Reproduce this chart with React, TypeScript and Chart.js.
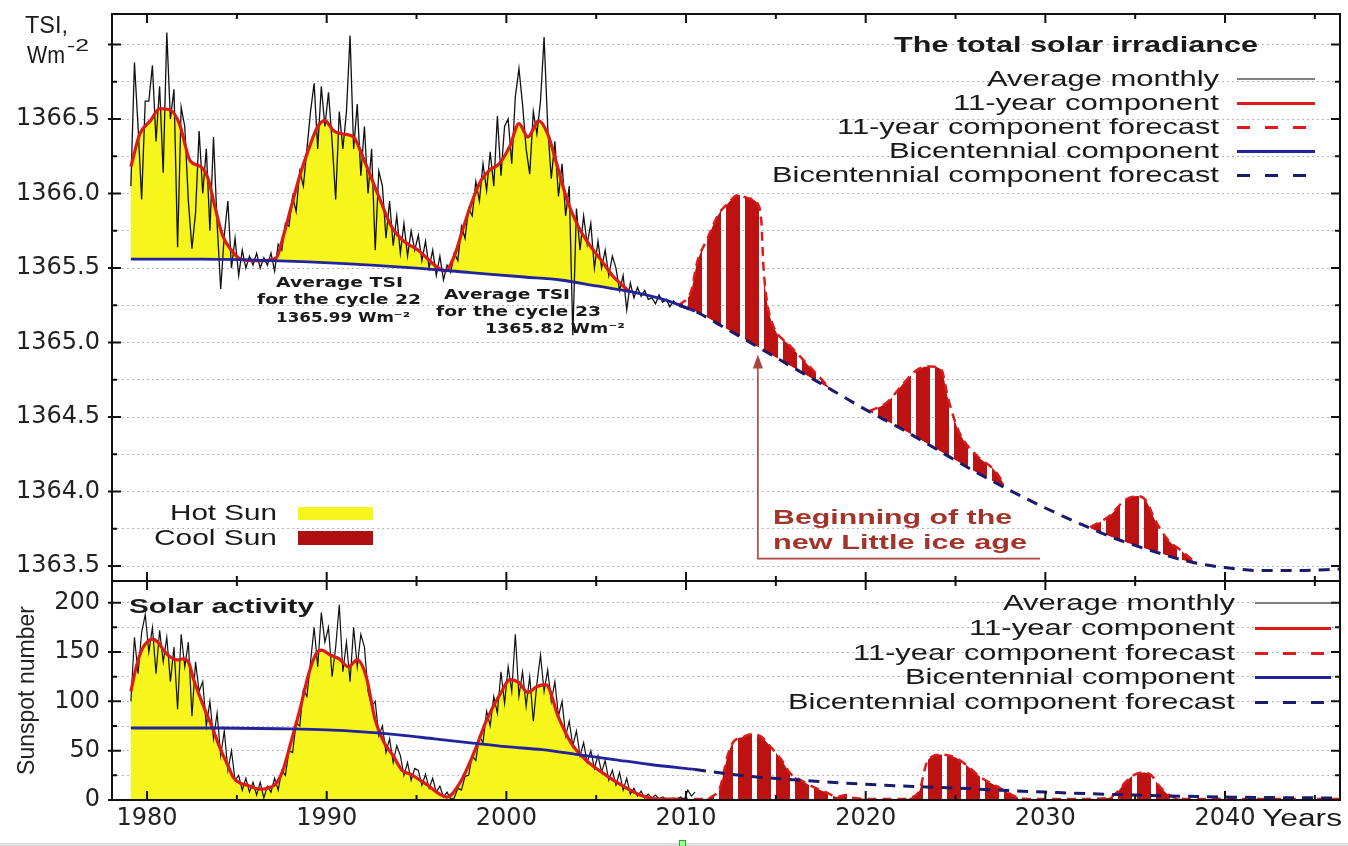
import React, { useEffect, useRef } from "react";
import { Chart, registerables } from "chart.js";

Chart.register(...registerables);

// ---------------- axes ----------------
const X_MIN = 1978.05;
const X_MAX = 2046.4;
const X_TICKS = [1980, 1985, 1990, 1995, 2000, 2005, 2010, 2015, 2020, 2025, 2030, 2035, 2040, 2045];
const X_LABELS = [1980, 1990, 2000, 2010, 2020, 2030, 2040];

const TSI_MIN = 1363.4;
const TSI_MAX = 1367.205;
const TSI_TICKS = [1363.5, 1363.75, 1364.0, 1364.25, 1364.5, 1364.75, 1365.0, 1365.25, 1365.5, 1365.75, 1366.0, 1366.25, 1366.5, 1366.75, 1367.0];
const TSI_LABELS = [1363.5, 1364.0, 1364.5, 1365.0, 1365.5, 1366.0, 1366.5];

const SSN_MIN = 0;
const SSN_MAX = 222;
const SSN_TICKS = [0, 25, 50, 75, 100, 125, 150, 175, 200];
const SSN_LABELS = [0, 50, 100, 150, 200];

// ---------------- data ----------------
const MONTHLY_START = 1979.1;
const MONTHLY_STEP = 0.2;

const TSI_MONTHLY = [
  1366.05, 1366.88, 1366.45, 1365.96, 1366.62,
  1366.62, 1366.86, 1366.35, 1366.72, 1366.14,
  1367.08, 1366.5, 1366.7, 1365.64, 1366.58,
  1366.45, 1365.95, 1365.63, 1365.87, 1366.42,
  1366.0, 1366.3, 1365.75, 1366.38, 1365.8,
  1365.36, 1365.72, 1365.95, 1365.5, 1365.7,
  1365.45, 1365.62, 1365.5, 1365.58, 1365.52,
  1365.6, 1365.5, 1365.57, 1365.52, 1365.6,
  1365.48, 1365.66, 1365.62, 1365.8, 1365.78,
  1365.98, 1365.88, 1366.15, 1366.05, 1366.3,
  1366.55, 1366.74, 1366.3, 1366.72, 1366.45,
  1366.68, 1366.35, 1365.96, 1366.55, 1366.3,
  1366.55, 1367.06, 1366.3, 1366.6, 1366.12,
  1366.45, 1366.0, 1366.3, 1365.62, 1366.15,
  1366.05, 1365.7, 1365.95, 1365.65, 1365.85,
  1365.6, 1365.8, 1365.58, 1365.75, 1365.62,
  1365.72, 1365.55, 1365.68, 1365.5, 1365.62,
  1365.45, 1365.58, 1365.42, 1365.52, 1365.47,
  1365.6, 1365.55, 1365.78, 1365.7, 1365.9,
  1365.85, 1366.08, 1365.95, 1366.2, 1366.02,
  1366.28, 1366.05, 1366.52, 1366.12, 1366.45,
  1366.5, 1366.2, 1366.65, 1366.84, 1366.6,
  1366.3, 1366.13, 1366.55, 1366.4, 1366.62,
  1367.05, 1366.45, 1366.1, 1366.35, 1365.98,
  1366.2, 1365.85, 1366.05, 1365.05, 1365.9,
  1365.62, 1365.85, 1365.66, 1365.8, 1365.5,
  1365.68, 1365.5, 1365.62, 1365.45, 1365.58,
  1365.5, 1365.35, 1365.45, 1365.22, 1365.4,
  1365.3, 1365.37, 1365.31, 1365.35, 1365.29,
  1365.3, 1365.26, 1365.32, 1365.27, 1365.29,
  1365.24, 1365.28, 1365.25,
];

const SSN_MONTHLY = [
  100, 165, 128, 170, 188,
  150, 175, 128, 172, 140,
  165, 120, 155, 92, 168,
  135, 160, 85, 140, 110,
  120, 75, 100, 62, 88,
  45, 70, 30, 50, 20,
  25, 10, 22, 8, 18,
  5, 18, 2, 14, 8,
  22, 10, 30, 25, 50,
  48, 78, 75, 112, 105,
  140, 175, 135, 190, 160,
  175, 125, 155, 198, 130,
  160, 120, 175, 135, 168,
  155, 110, 95, 100, 65,
  75, 48, 62, 38, 55,
  45, 25, 38, 20, 32,
  30, 15, 26, 12, 22,
  8, 14, 3, 8, 1,
  2, 12, 10, 24, 25,
  45, 40, 65, 58, 90,
  75, 105, 88, 130, 98,
  135, 110, 168, 105, 130,
  95, 125, 80, 118, 147,
  110, 132, 100, 120, 85,
  100, 65, 80, 55, 70,
  45, 58, 38, 50, 32,
  45, 28, 40, 20, 30,
  15, 28, 10, 22, 6,
  12, 4, 9, 2, 6,
  2, 5, 1, 3, 1,
  0, 2, 1, 3, 0,
  10, 4, 8,
];

const TSI_11Y_YEARS = [1979.1, 1979.6, 1980.2, 1980.7, 1981.3, 1981.8, 1982.4, 1983.0, 1983.4, 1983.8, 1984.2, 1984.7, 1985.2, 1985.8, 1986.5, 1987.2, 1987.6, 1988.0, 1988.5, 1989.0, 1989.5, 1989.9, 1990.4, 1990.9, 1991.5, 1992.0, 1992.4, 1993.0, 1993.6, 1994.3, 1995.1, 1996.0, 1996.6, 1997.1, 1997.6, 1998.1, 1998.6, 1999.1, 1999.6, 2000.2, 2000.7, 2001.2, 2001.8, 2002.3, 2002.8, 2003.4, 2004.0, 2004.6, 2005.3, 2005.9, 2006.5, 2006.9];
const TSI_11Y = [1366.18, 1366.4, 1366.49, 1366.57, 1366.56, 1366.47, 1366.22, 1366.18, 1366.1, 1365.9, 1365.72, 1365.62, 1365.56, 1365.55, 1365.55, 1365.57, 1365.72, 1365.9, 1366.12, 1366.3, 1366.45, 1366.49, 1366.42, 1366.4, 1366.38, 1366.25, 1366.13, 1365.95, 1365.78, 1365.68, 1365.62, 1365.52, 1365.48, 1365.58, 1365.77, 1365.95, 1366.09, 1366.16, 1366.2, 1366.32, 1366.47, 1366.38, 1366.49, 1366.4, 1366.2, 1365.95, 1365.78, 1365.66, 1365.55, 1365.45, 1365.38, 1365.34];

const TSI_BICENT_YEARS = [1979.1, 1983, 1987, 1991, 1995, 1998, 2001, 2003, 2005, 2007, 2009, 2010.5];
const TSI_BICENT = [1365.56, 1365.56, 1365.55, 1365.53, 1365.5, 1365.47, 1365.44, 1365.42, 1365.38, 1365.34, 1365.28, 1365.21];

const TSI_BICENT_FC_YEARS = [2009.6, 2010.5, 2012, 2014, 2016, 2018, 2020, 2022, 2024, 2026, 2028, 2030, 2032, 2034, 2036, 2038, 2040, 2042, 2044, 2046.4];
const TSI_BICENT_FC = [1365.25, 1365.21, 1365.11, 1364.97, 1364.83, 1364.69, 1364.55, 1364.42, 1364.28, 1364.14, 1364.01, 1363.89, 1363.78, 1363.68, 1363.6, 1363.53, 1363.49, 1363.47, 1363.47, 1363.48];

const TSI_FC1_YEARS = [2009.6, 2010.3, 2010.6, 2011.2, 2011.8, 2012.3, 2012.9, 2013.4, 2014.0, 2014.2, 2014.3, 2014.5, 2014.9, 2015.7, 2016.4, 2017.1, 2017.8, 2018.2];
const TSI_FC1 = [1365.25, 1365.35, 1365.53, 1365.7, 1365.86, 1365.93, 1365.99, 1365.97, 1365.93, 1365.8, 1365.53, 1365.28, 1365.1, 1364.99, 1364.9, 1364.81, 1364.72, 1364.67];
const TSI_FC2_YEARS = [2020.2, 2021.2, 2022.2, 2022.9, 2023.6, 2024.2, 2024.6, 2025.2, 2026.2, 2027.2, 2027.7];
const TSI_FC2 = [1364.54, 1364.6, 1364.74, 1364.82, 1364.84, 1364.82, 1364.62, 1364.4, 1364.24, 1364.14, 1364.05];
const TSI_FC3_YEARS = [2032.5, 2033.6, 2034.4, 2035.1, 2035.6, 2036.1, 2036.8, 2037.6, 2038.3];
const TSI_FC3 = [1363.76, 1363.84, 1363.94, 1363.97, 1363.94, 1363.81, 1363.68, 1363.6, 1363.53];

const SSN_11Y_YEARS = [1979.1, 1979.4, 1979.7, 1980.0, 1980.3, 1980.6, 1981.0, 1981.3, 1981.7, 1982.0, 1982.3, 1982.6, 1983.0, 1983.3, 1983.6, 1984.1, 1984.5, 1984.8, 1985.2, 1985.6, 1986.2, 1986.7, 1987.2, 1987.6, 1988.0, 1988.5, 1989.0, 1989.4, 1989.7, 1990.2, 1990.7, 1991.2, 1991.7, 1992.2, 1992.7, 1993.2, 1993.7, 1994.2, 1994.7, 1995.2, 1995.7, 1996.2, 1996.7, 1997.4, 1998.2, 1998.9, 1999.7, 2000.2, 2000.7, 2001.2, 2001.7, 2002.2, 2002.9, 2003.6, 2004.4, 2005.4, 2006.6, 2007.6, 2008.5, 2009.6];
const SSN_11Y = [110, 135, 152, 160, 163, 160, 150, 145, 142, 143, 140, 122, 102, 88, 75, 51, 35, 23, 17, 15, 11, 12, 17, 32, 58, 91, 128, 148, 152, 147, 143, 135, 142, 125, 81, 58, 45, 30, 26, 20, 14, 7, 3, 17, 48, 81, 109, 122, 119, 109, 115, 117, 84, 58, 41, 27, 13, 4, 1, 1];

const SSN_BICENT_YEARS = [1979.1, 1984, 1988, 1990, 1992, 1994, 1996, 1998, 2000, 2002, 2004, 2006, 2008, 2010.5];
const SSN_BICENT = [73, 73, 72, 71, 69, 66, 62, 58, 54, 51, 46, 41, 36, 31];
const SSN_BICENT_FC_YEARS = [2010.5, 2013, 2016, 2020, 2025, 2030, 2035, 2040, 2046.4];
const SSN_BICENT_FC = [31, 25, 20.5, 16, 12, 8, 5, 3, 2];

const SSN_FC_YEARS = [2009.6, 2010.5, 2011.0, 2011.4, 2011.9, 2012.3, 2012.6, 2013.2, 2013.7, 2014.2, 2014.7, 2015.3, 2015.8, 2016.4, 2017.1, 2017.9, 2018.4, 2018.9, 2019.4, 2020.5, 2022.0, 2022.6, 2023.0, 2023.4, 2023.7, 2024.1, 2025.0, 2025.7, 2026.4, 2027.4, 2028.4, 2029.0, 2030.5, 2032.0, 2033.5, 2034.0, 2034.4, 2034.9, 2035.4, 2035.9, 2036.4, 2037.1, 2038.0, 2040.0, 2046.4];
const SSN_FC = [1, 1, 1, 3, 13, 44, 58, 64, 67, 64, 54, 41, 27, 20, 13, 7, 3, 5, 2, 1, 1, 3, 10, 38, 44, 46, 43, 34, 23, 13, 3, 1, 1, 1, 2, 8, 17, 25, 28, 25, 13, 3, 1, 1, 1];

// annotation arrow (data coordinates)
const ARROW_YEAR = 2014.0;
const ARROW_TIP = 1364.92;
const ARROW_BASE = 1363.55;
const ARROW_END_YEAR = 2029.7;

// ---------------- styles ----------------
const YELLOW = "#f6f61c";
const RED = "#dc1b1b";
const BLUE = "#23239c";
const NAVY = "#1b1b6c";
const HATCH = "#bd1212";
const COOL = "#b00f0f";
const BLACK = "#111111";
const GRID_COLOR = "rgba(110,110,110,0.5)";
const TICK_COLOR = "#222";
const ARROW_COLOR = "#a8463f";
const SANS = "'Liberation Sans', Arial, sans-serif";
const TICK_FONT = { family: "'DejaVu Sans', sans-serif", size: 24 };

const pts = (xs: number[], ys: number[]) => xs.map((x, i) => ({ x, y: ys[i] }));
const monthly = (ys: number[]) => ys.map((y, i) => ({ x: +(MONTHLY_START + i * MONTHLY_STEP).toFixed(2), y }));
const near = (list: number[], v: number) => list.some((l) => Math.abs(l - v) < 1e-6);

function stripePattern(phase: number): CanvasPattern | string {
  const c = document.createElement("canvas");
  c.width = 19;
  c.height = 4;
  const g = c.getContext("2d");
  if (!g) return HATCH;
  g.fillStyle = HATCH;
  g.fillRect(0, 0, 19, 4);
  for (let i = -2; i <= 2; i++) {
    const x = (((phase + i) % 19) + 19) % 19;
    g.clearRect(x, 0, 1, 4);
  }
  return g.createPattern(c, "repeat") || HATCH;
}

function framePlugin(yTicks: number[], isMajor: (v: number) => boolean) {
  return {
    id: "frameTicks",
    afterDraw(chart: any) {
      const { ctx, chartArea: a, scales } = chart;
      ctx.save();
      ctx.strokeStyle = "#111";
      ctx.lineWidth = 2;
      ctx.strokeRect(a.left, a.top, a.right - a.left, a.bottom - a.top);
      ctx.beginPath();
      for (const v of X_TICKS) {
        const px = scales.x.getPixelForValue(v);
        const len = v % 10 === 0 ? 9 : 5;
        ctx.moveTo(px, a.top);
        ctx.lineTo(px, a.top + len);
        ctx.moveTo(px, a.bottom);
        ctx.lineTo(px, a.bottom - len);
      }
      for (const v of yTicks) {
        const py = scales.y.getPixelForValue(v);
        const major = isMajor(v);
        const len = major ? 9 : 5;
        ctx.moveTo(a.left - (major ? 4 : 0), py);
        ctx.lineTo(a.left + len, py);
        ctx.moveTo(a.right, py);
        ctx.lineTo(a.right - len, py);
      }
      ctx.stroke();
      ctx.restore();
    },
  };
}

const arrowPlugin = {
  id: "arrow",
  afterDatasetsDraw(chart: any) {
    const { ctx } = chart;
    const { x, y } = chart.scales;
    const px = x.getPixelForValue(ARROW_YEAR);
    const pe = x.getPixelForValue(ARROW_END_YEAR);
    const pt = y.getPixelForValue(ARROW_TIP);
    const pb = y.getPixelForValue(ARROW_BASE);
    ctx.save();
    ctx.strokeStyle = ARROW_COLOR;
    ctx.fillStyle = ARROW_COLOR;
    ctx.lineWidth = 1.6;
    ctx.beginPath();
    ctx.moveTo(pe, pb);
    ctx.lineTo(px, pb);
    ctx.lineTo(px, pt + 10);
    ctx.stroke();
    ctx.beginPath();
    ctx.moveTo(px, pt);
    ctx.lineTo(px - 5, pt + 14);
    ctx.lineTo(px + 5, pt + 14);
    ctx.closePath();
    ctx.fill();
    ctx.restore();
  },
};

function yScale(min: number, max: number, ticks: number[], labels: number[], fmt: (v: number) => string, extra: any = {}) {
  return {
    type: "linear",
    min,
    max,
    afterFit(s: any) {
      s.width = 112;
      s.paddingTop = 0;
      s.paddingBottom = 0;
    },
    afterBuildTicks(s: any) {
      s.ticks = ticks.map((value) => ({ value }));
    },
    grid: { color: GRID_COLOR, lineWidth: 1, drawTicks: false },
    border: { display: false, dash: [2, 3] },
    ticks: {
      autoSkip: false,
      padding: 12,
      color: TICK_COLOR,
      font: TICK_FONT,
      callback: (v: any) => (near(labels, Number(v)) ? fmt(Number(v)) : ""),
    },
    ...extra,
  };
}

const common = {
  responsive: false,
  animation: false,
  devicePixelRatio: 1,
  events: [],
  plugins: { legend: { display: false }, tooltip: { enabled: false }, title: { display: false } },
  elements: { point: { radius: 0 } },
};

function topConfig(pattern: any): any {
  const hump = (xs: number[], ys: number[]) => ({
    data: pts(xs, ys),
    borderColor: RED,
    borderWidth: 2.5,
    borderDash: [9, 6],
    cubicInterpolationMode: "monotone",
    fill: { target: 7, above: pattern, below: "rgba(0,0,0,0)" },
    order: 9,
  });
  return {
    type: "line",
    data: {
      datasets: [
        {
          data: pts(TSI_11Y_YEARS, TSI_11Y),
          borderColor: "rgba(0,0,0,0)",
          borderWidth: 0,
          cubicInterpolationMode: "monotone",
          fill: { target: 6, above: YELLOW, below: "rgba(0,0,0,0)" },
          order: 10,
        },
        hump(TSI_FC1_YEARS, TSI_FC1),
        hump(TSI_FC2_YEARS, TSI_FC2),
        hump(TSI_FC3_YEARS, TSI_FC3),
        { data: monthly(TSI_MONTHLY), borderColor: BLACK, borderWidth: 1.3, tension: 0, fill: false, order: 5 },
        { data: pts(TSI_11Y_YEARS, TSI_11Y), borderColor: RED, borderWidth: 3.2, cubicInterpolationMode: "monotone", fill: false, order: 4 },
        { data: pts(TSI_BICENT_YEARS, TSI_BICENT), borderColor: BLUE, borderWidth: 2.8, cubicInterpolationMode: "monotone", fill: false, order: 3 },
        { data: pts(TSI_BICENT_FC_YEARS, TSI_BICENT_FC), borderColor: NAVY, borderWidth: 3, borderDash: [11, 8], cubicInterpolationMode: "monotone", fill: false, order: 2 },
      ],
    },
    options: {
      ...common,
      layout: { padding: { top: 14, bottom: 1, left: 0, right: 8 } },
      scales: {
        x: { type: "linear", min: X_MIN, max: X_MAX, display: false },
        y: yScale(TSI_MIN, TSI_MAX, TSI_TICKS, TSI_LABELS, (v) => v.toFixed(1)),
      },
    },
    plugins: [framePlugin(TSI_TICKS, (v) => Math.abs(v * 2 - Math.round(v * 2)) < 1e-6), arrowPlugin],
  };
}

function bottomConfig(pattern: any): any {
  return {
    type: "line",
    data: {
      datasets: [
        {
          data: pts(SSN_FC_YEARS, SSN_FC),
          borderColor: RED,
          borderWidth: 2.5,
          borderDash: [9, 6],
          cubicInterpolationMode: "monotone",
          fill: { target: "origin", above: pattern, below: "rgba(0,0,0,0)" },
          order: 10,
        },
        {
          data: pts(SSN_11Y_YEARS, SSN_11Y),
          borderColor: "rgba(0,0,0,0)",
          borderWidth: 0,
          cubicInterpolationMode: "monotone",
          fill: { target: "origin", above: YELLOW, below: "rgba(0,0,0,0)" },
          order: 9,
        },
        { data: monthly(SSN_MONTHLY), borderColor: BLACK, borderWidth: 1.2, tension: 0, fill: false, order: 5 },
        { data: pts(SSN_11Y_YEARS, SSN_11Y), borderColor: RED, borderWidth: 3.2, cubicInterpolationMode: "monotone", fill: false, order: 4 },
        { data: pts(SSN_BICENT_YEARS, SSN_BICENT), borderColor: BLUE, borderWidth: 2.8, cubicInterpolationMode: "monotone", fill: false, order: 3 },
        { data: pts(SSN_BICENT_FC_YEARS, SSN_BICENT_FC), borderColor: NAVY, borderWidth: 3, borderDash: [11, 8], cubicInterpolationMode: "monotone", fill: false, order: 2 },
      ],
    },
    options: {
      ...common,
      layout: { padding: { top: 11, bottom: 0, left: 0, right: 8 } },
      scales: {
        x: {
          type: "linear",
          min: X_MIN,
          max: X_MAX,
          afterFit(s: any) {
            s.height = 46;
            s.paddingLeft = 0;
            s.paddingRight = 0;
          },
          afterBuildTicks(s: any) {
            s.ticks = X_TICKS.map((value) => ({ value }));
          },
          grid: { display: false, drawTicks: false },
          border: { display: false },
          ticks: {
            autoSkip: false,
            maxRotation: 0,
            padding: 4,
            color: TICK_COLOR,
            font: TICK_FONT,
            callback: (v: any) => (near(X_LABELS, Number(v)) ? String(v) : ""),
          },
        },
        y: yScale(SSN_MIN, SSN_MAX, SSN_TICKS, SSN_LABELS, (v) => String(v), {
          title: {
            display: true,
            text: "Sunspot number",
            color: TICK_COLOR,
            font: { family: SANS, size: 23 },
            padding: { top: 14, bottom: 0 },
          },
        }),
      },
    },
    plugins: [framePlugin(SSN_TICKS, (v) => v % 50 === 0)],
  };
}

// ---------------- overlay text ----------------
let measureCtx: CanvasRenderingContext2D | null = null;
function textWidth(text: string, font: string): number {
  if (!measureCtx) measureCtx = document.createElement("canvas").getContext("2d");
  if (!measureCtx) return 0;
  measureCtx.font = font;
  return measureCtx.measureText(text).width;
}

type TP = { text: string; x: number; cy: number; w: number; size: number; bold?: boolean; family?: string; color?: string };
function FitText({ text, x, cy, w, size, bold, family = SANS, color = "#1a1a1a" }: TP) {
  const font = `${bold ? "bold " : ""}${size}px ${family}`;
  const natural = textWidth(text, font) || w;
  const k = w / natural;
  const lh = Math.round(size * 1.2);
  return (
    <div
      style={{
        position: "absolute",
        left: x,
        top: cy - lh / 2,
        height: lh,
        fontFamily: family,
        fontSize: size,
        fontWeight: bold ? "bold" : "normal",
        lineHeight: `${lh}px`,
        color,
        whiteSpace: "nowrap",
        transform: `scaleX(${k.toFixed(3)})`,
        transformOrigin: "0 50%",
      }}
    >
      {text}
    </div>
  );
}

const LEGEND_LABELS = ["Average monthly", "11-year component", "11-year component forecast", "Bicentennial component", "Bicentennial component forecast"];
const LEGEND_WIDTHS = [232, 266, 382, 330, 447];
const LEGEND_SAMPLES = [
  { color: "#808080", h: 2, dashed: false },
  { color: RED, h: 3, dashed: false },
  { color: RED, h: 3, dashed: true },
  { color: BLUE, h: 3, dashed: false },
  { color: NAVY, h: 3, dashed: true },
];

function Legend({ right, rows, sx, sw }: { right: number; rows: number[]; sx: number; sw: number }) {
  return (
    <>
      {LEGEND_LABELS.map((t, i) => (
        <FitText key={t} text={t} x={right - LEGEND_WIDTHS[i]} cy={rows[i]} w={LEGEND_WIDTHS[i]} size={22} />
      ))}
      {LEGEND_SAMPLES.map((s, i) => (
        <div
          key={i}
          style={{
            position: "absolute",
            left: sx,
            top: rows[i] - s.h / 2,
            width: sw,
            height: s.h,
            background: s.dashed ? `repeating-linear-gradient(90deg, ${s.color} 0 13px, transparent 13px 28px)` : s.color,
          }}
        />
      ))}
    </>
  );
}

const CYCLE_FONT = "'DejaVu Sans', sans-serif";

export default function App() {
  const topRef = useRef<HTMLCanvasElement>(null);
  const botRef = useRef<HTMLCanvasElement>(null);

  useEffect(() => {
    if (!topRef.current || !botRef.current) return;
    const top = new Chart(topRef.current, topConfig(stripePattern(1)));
    const bot = new Chart(botRef.current, bottomConfig(stripePattern(13)));
    return () => {
      top.destroy();
      bot.destroy();
    };
  }, []);

  return (
    <div style={{ position: "fixed", left: 0, top: 0, width: 1348, height: 846, background: "#fff", overflow: "hidden" }}>
      <canvas ref={topRef} width={1348} height={582} style={{ position: "absolute", left: 0, top: 0, width: 1348, height: 582 }} />
      <canvas ref={botRef} width={1348} height={276} style={{ position: "absolute", left: 0, top: 570, width: 1348, height: 276 }} />

      {/* axis titles */}
      <FitText text="TSI," x={25} cy={25} w={43} size={23} />
      <FitText text="Wm" x={27} cy={55} w={38} size={23} />
      <FitText text="-2" x={67} cy={45} w={22} size={16} />
      <FitText text="Years" x={1262} cy={818} w={80} size={23} />

      {/* top legend */}
      <FitText text="The total solar irradiance" x={894} cy={45} w={364} size={22} bold />
      <Legend right={1219} rows={[79, 103, 127, 151, 175]} sx={1237} sw={78} />

      {/* bottom legend */}
      <FitText text="Solar activity" x={129} cy={605} w={185} size={21} bold />
      <Legend right={1235} rows={[603, 628, 653, 677, 702]} sx={1255} sw={76} />

      {/* hot / cool sun */}
      <FitText text="Hot Sun" x={170} cy={513} w={107} size={22} />
      <FitText text="Cool Sun" x={154} cy={538} w={123} size={22} />
      <div style={{ position: "absolute", left: 298, top: 507, width: 75, height: 13, background: YELLOW }} />
      <div style={{ position: "absolute", left: 298, top: 531, width: 75, height: 14, background: COOL }} />

      {/* little ice age note */}
      <FitText text="Beginning of the" x={773} cy={517} w={239} size={20} bold color="#a3342c" />
      <FitText text="new Little ice age" x={773} cy={542} w={254} size={20} bold color="#a3342c" />

      {/* cycle annotations */}
      <FitText text="Average TSI" x={276} cy={282} w={127} size={14} bold family={CYCLE_FONT} color="#1a1a1a" />
      <FitText text="for the cycle 22" x={257} cy={299} w={164} size={14} bold family={CYCLE_FONT} color="#1a1a1a" />
      <FitText text="1365.99 Wm⁻²" x={276} cy={317} w={134} size={14} bold family={CYCLE_FONT} color="#1a1a1a" />
      <FitText text="Average TSI" x={444} cy={294} w={126} size={14} bold family={CYCLE_FONT} color="#1a1a1a" />
      <FitText text="for the cycle 23" x={436} cy={311} w={165} size={14} bold family={CYCLE_FONT} color="#1a1a1a" />
      <FitText text="1365.82 Wm⁻²" x={485} cy={328} w={140} size={14} bold family={CYCLE_FONT} color="#1a1a1a" />

      {/* bottom strip */}
      <div style={{ position: "absolute", left: 0, top: 843, width: 1348, height: 3, background: "#dedede" }} />
      <div style={{ position: "absolute", left: 679, top: 840, width: 5, height: 6, border: "1px solid #2a2", background: "#9f9" }} />
    </div>
  );
}
